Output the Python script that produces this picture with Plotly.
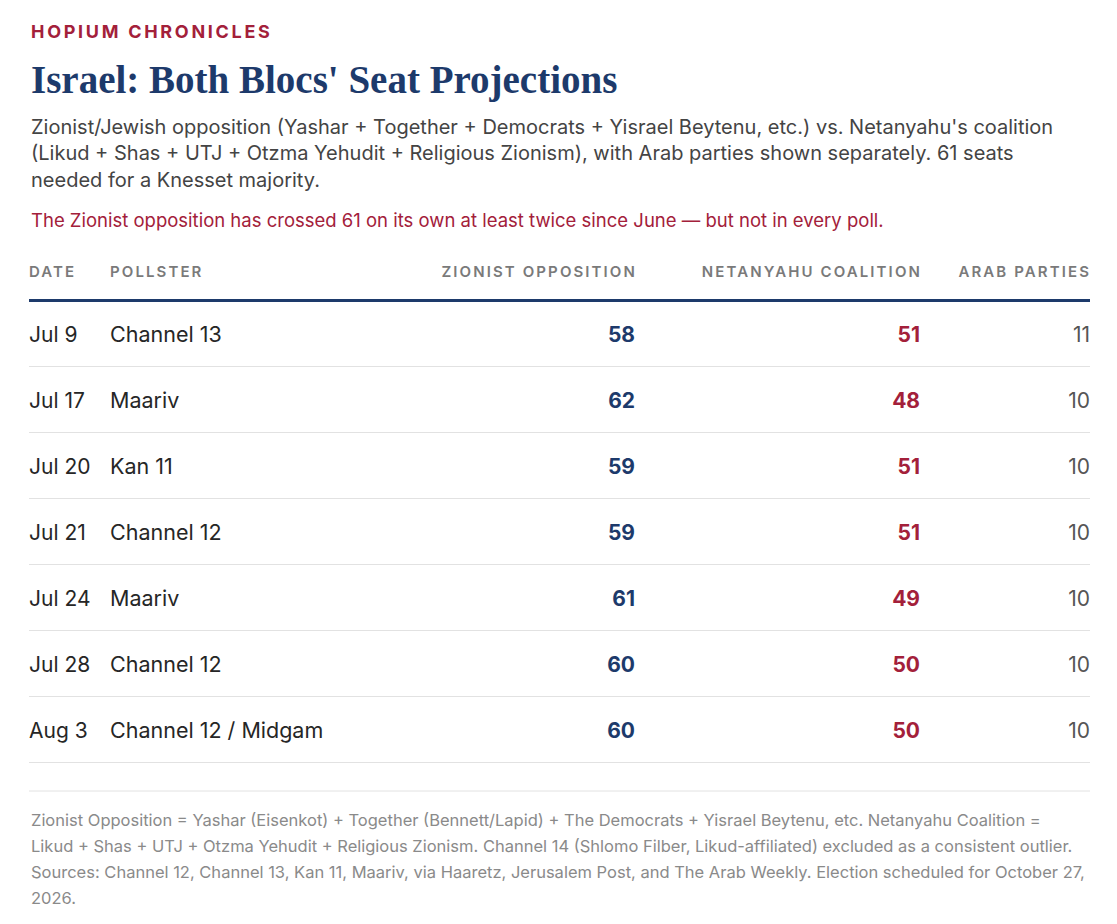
import plotly.graph_objects as go

RED = "#a3203a"
NAVY = "#1d3a6b"
TEXT = "#262626"
MUTED = "#7a7a7a"
SANS = "Inter, Roboto, sans-serif"
SERIF = "Liberation Serif, DejaVu Serif, serif"

dates = ["Jul 9", "Jul 17", "Jul 20", "Jul 21", "Jul 24", "Jul 28", "Aug 3"]
pollsters = ["Channel 13", "Maariv", "Kan 11", "Channel 12", "Maariv", "Channel 12", "Channel 12 / Midgam"]
zionist_opposition = [58, 62, 59, 59, 61, 60, 60]
netanyahu_coalition = [51, 48, 51, 51, 49, 50, 50]
arab_parties = [11, 10, 10, 10, 10, 10, 10]
headers = ["DATE", "POLLSTER", "ZIONIST OPPOSITION", "NETANYAHU COALITION", "ARAB PARTIES"]

kicker = "HOPIUM CHRONICLES"
title = "Israel: Both Blocs' Seat Projections"
subtitle_lines = [
    "Zionist/Jewish opposition (Yashar + Together + Democrats + Yisrael Beytenu, etc.) vs. Netanyahu's coalition",
    "(Likud + Shas + UTJ + Otzma Yehudit + Religious Zionism), with Arab parties shown separately. 61 seats",
    "needed for a Knesset majority.",
]
note = "The Zionist opposition has crossed 61 on its own at least twice since June \u2014 but not in every poll."
footer_lines = [
    "Zionist Opposition = Yashar (Eisenkot) + Together (Bennett/Lapid) + The Democrats + Yisrael Beytenu, etc. Netanyahu Coalition =",
    "Likud + Shas + UTJ + Otzma Yehudit + Religious Zionism. Channel 14 (Shlomo Filber, Likud-affiliated) excluded as a consistent outlier.",
    "Sources: Channel 12, Channel 13, Kan 11, Maariv, via Haaretz, Jerusalem Post, and The Arab Weekly. Election scheduled for October 27,",
    "2026.",
]

# layout geometry (pixels inside the figure; the page adds an 8px body margin)
W, H = 1117, 924
OFF = 8
LEFT, RIGHT = 29 - OFF, 1090 - OFF
TOP, BOTTOM = 242, 792
ZERO_PX = 300 - OFF
ROW_PX = 66
col_x = {"date": 0, "pollster": 81, "opp": 608, "coal": 893, "arab": 1061}

n = len(dates)
row_y = [i + 0.56 for i in range(n)]
header_y = -0.41


def py2paper(py):
    # py is a screen position in the reference
    return (BOTTOM - (py - OFF)) / (BOTTOM - TOP)


def spaced(s, px):
    return f'<span style="letter-spacing:{px}px">{s}</span>'


fig = go.Figure()

fig.add_trace(go.Scatter(
    x=[col_x["date"], col_x["pollster"], col_x["opp"], col_x["coal"], col_x["arab"] + 1],
    y=[header_y] * 5,
    text=[spaced(h, 2.1) for h in headers],
    mode="text",
    textposition=["middle right", "middle right", "middle left", "middle left", "middle left"],
    textfont=dict(family=SANS, size=15, color=MUTED, weight=600),
    hoverinfo="skip",
))
fig.add_trace(go.Scatter(
    x=[col_x["date"]] * n, y=row_y, text=dates, mode="text",
    textposition="middle right",
    textfont=dict(family=SANS, size=21, color=TEXT),
    hoverinfo="skip",
))
fig.add_trace(go.Scatter(
    x=[col_x["pollster"]] * n, y=row_y, text=pollsters, mode="text",
    textposition="middle right",
    textfont=dict(family=SANS, size=21.5, color=TEXT),
    hoverinfo="skip",
))
fig.add_trace(go.Scatter(
    x=[col_x["opp"] - 2] * n, y=row_y, text=[str(v) for v in zionist_opposition], mode="text",
    textposition="middle left",
    textfont=dict(family=SANS, size=21, color=NAVY, weight="bold"),
    hoverinfo="skip",
))
fig.add_trace(go.Scatter(
    x=[col_x["coal"] - 2] * n, y=row_y, text=[str(v) for v in netanyahu_coalition], mode="text",
    textposition="middle left",
    textfont=dict(family=SANS, size=21, color=RED, weight="bold"),
    hoverinfo="skip",
))
fig.add_trace(go.Scatter(
    x=[col_x["arab"]] * n, y=row_y, text=[str(v) for v in arab_parties], mode="text",
    textposition="middle left",
    textfont=dict(family=SANS, size=21, color="#555555"),
    hoverinfo="skip",
))

annotations = [
    dict(text=spaced(kicker, 2.7), x=0, y=py2paper(31), font=dict(family=SANS, size=18, color=RED, weight="bold")),
    dict(text=title, x=0, y=py2paper(80), font=dict(family=SERIF, size=39, color=NAVY, weight="bold")),
]
for i, line in enumerate(subtitle_lines):
    annotations.append(dict(text=line, x=0, y=py2paper(127 + 26.5 * i),
                            font=dict(family=SANS, size=20, color="#444444")))
annotations.append(dict(text=note, x=0, y=py2paper(220), font=dict(family=SANS, size=18.5, color=RED)))
for i, line in enumerate(footer_lines):
    annotations.append(dict(text=line, x=0, y=py2paper(820 + 26 * i),
                            font=dict(family=SANS, size=16.5, color="#8a8a8a")))
for a in annotations:
    a.update(xref="paper", yref="paper", xanchor="left", yanchor="middle", showarrow=False)

fig.update_layout(
    width=W,
    height=H,
    paper_bgcolor="white",
    plot_bgcolor="white",
    showlegend=False,
    margin=dict(l=LEFT, r=W - RIGHT, t=TOP, b=H - BOTTOM, pad=0),
    annotations=annotations,
    xaxis=dict(
        range=[0, RIGHT - LEFT],
        visible=False,
        fixedrange=True,
    ),
    yaxis=dict(
        range=[(BOTTOM - ZERO_PX) / ROW_PX, (TOP - ZERO_PX) / ROW_PX],
        tickmode="array",
        tickvals=list(range(1, n + 1)),
        showticklabels=False,
        ticks="",
        showgrid=True,
        gridcolor="#e2e2e2",
        gridwidth=1,
        zeroline=True,
        zerolinecolor=NAVY,
        zerolinewidth=3,
        showline=False,
        fixedrange=True,
    ),
    shapes=[
        dict(type="line", xref="paper", yref="y", x0=0, x1=1,
             y0=(791 - OFF - ZERO_PX) / ROW_PX, y1=(791 - OFF - ZERO_PX) / ROW_PX,
             line=dict(color="#e2e2e2", width=1)),
    ],
)

fig.write_html("out.html")
